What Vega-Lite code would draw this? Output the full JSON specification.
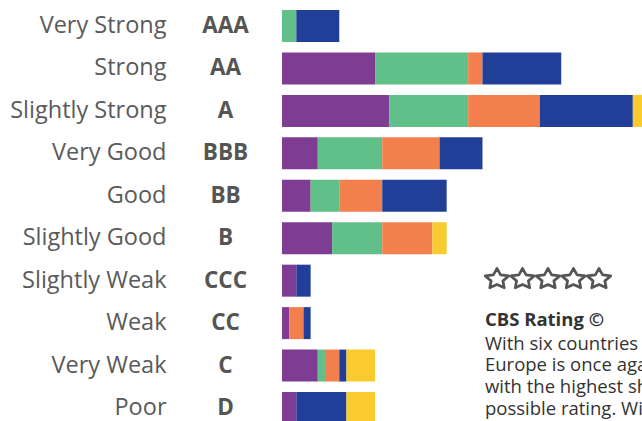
{
  "$schema": "https://vega.github.io/schema/vega-lite/v6.json",
  "autosize": "none",
  "padding": {"left": 282, "top": 0, "right": 0, "bottom": 0},
  "width": 360,
  "height": 434,
  "config": {"view": {"stroke": null}, "font": "Open Sans"},
  "data": {"values": [
    {"rating": "AAA", "region": "Asia-Pacific", "ord": 2, "n": 2},
    {"rating": "AAA", "region": "Europe", "ord": 4, "n": 6},
    {"rating": "AA", "region": "Americas", "ord": 1, "n": 13},
    {"rating": "AA", "region": "Asia-Pacific", "ord": 2, "n": 13},
    {"rating": "AA", "region": "Middle East & Central Asia", "ord": 3, "n": 2},
    {"rating": "AA", "region": "Europe", "ord": 4, "n": 11},
    {"rating": "A", "region": "Americas", "ord": 1, "n": 15},
    {"rating": "A", "region": "Asia-Pacific", "ord": 2, "n": 11},
    {"rating": "A", "region": "Middle East & Central Asia", "ord": 3, "n": 10},
    {"rating": "A", "region": "Europe", "ord": 4, "n": 13},
    {"rating": "A", "region": "Africa", "ord": 5, "n": 2},
    {"rating": "BBB", "region": "Americas", "ord": 1, "n": 5},
    {"rating": "BBB", "region": "Asia-Pacific", "ord": 2, "n": 9},
    {"rating": "BBB", "region": "Middle East & Central Asia", "ord": 3, "n": 8},
    {"rating": "BBB", "region": "Europe", "ord": 4, "n": 6},
    {"rating": "BB", "region": "Americas", "ord": 1, "n": 4},
    {"rating": "BB", "region": "Asia-Pacific", "ord": 2, "n": 4},
    {"rating": "BB", "region": "Middle East & Central Asia", "ord": 3, "n": 6},
    {"rating": "BB", "region": "Europe", "ord": 4, "n": 9},
    {"rating": "B", "region": "Americas", "ord": 1, "n": 7},
    {"rating": "B", "region": "Asia-Pacific", "ord": 2, "n": 7},
    {"rating": "B", "region": "Middle East & Central Asia", "ord": 3, "n": 7},
    {"rating": "B", "region": "Africa", "ord": 5, "n": 2},
    {"rating": "CCC", "region": "Americas", "ord": 1, "n": 2},
    {"rating": "CCC", "region": "Europe", "ord": 4, "n": 2},
    {"rating": "CC", "region": "Americas", "ord": 1, "n": 1},
    {"rating": "CC", "region": "Middle East & Central Asia", "ord": 3, "n": 2},
    {"rating": "CC", "region": "Europe", "ord": 4, "n": 1},
    {"rating": "C", "region": "Americas", "ord": 1, "n": 5},
    {"rating": "C", "region": "Asia-Pacific", "ord": 2, "n": 1},
    {"rating": "C", "region": "Middle East & Central Asia", "ord": 3, "n": 2},
    {"rating": "C", "region": "Europe", "ord": 4, "n": 1},
    {"rating": "C", "region": "Africa", "ord": 5, "n": 4},
    {"rating": "D", "region": "Americas", "ord": 1, "n": 2},
    {"rating": "D", "region": "Europe", "ord": 4, "n": 7},
    {"rating": "D", "region": "Africa", "ord": 5, "n": 4}
  ]},
  "layer": [
    {
      "mark": {"type": "bar", "clip": true},
      "encoding": {
        "y": {
          "field": "rating", "type": "nominal", "sort": null,
          "scale": {"paddingInner": 0.246, "paddingOuter": 0.2356},
          "axis": {"orient": "left", "title": null, "domain": false, "ticks": false, "tickSize": 0,
                   "labelAlign": "center", "labelPadding": 57, "labelFont": "Open Sans",
                   "labelFontSize": 22.5, "labelFontWeight": "bold", "labelColor": "#555555"}
        },
        "x": {"field": "n", "type": "quantitative", "stack": "zero",
              "scale": {"domain": [0, 50.28], "nice": false, "zero": true}, "axis": null},
        "color": {"field": "region", "type": "nominal",
                  "scale": {"domain": ["Americas", "Asia-Pacific", "Middle East & Central Asia", "Europe", "Africa"],
                            "range": ["#7e3d93", "#61bf8a", "#f3804c", "#213f99", "#f9cb2f"]},
                  "legend": null},
        "order": {"field": "ord", "type": "quantitative"}
      }
    },
    {
      "mark": {"type": "tick", "opacity": 0},
      "encoding": {
        "y": {
          "field": "rating", "type": "nominal", "sort": null,
          "axis": {"orient": "left", "title": null, "domain": false, "ticks": false, "tickSize": 0,
                   "labelAlign": "right", "labelPadding": 116, "labelFont": "Open Sans", "labelLimit": 300,
                   "labelFontSize": 23.5, "labelFontWeight": "normal", "labelColor": "#5a5a5a",
                   "labelExpr": "{'AAA':'Very Strong','AA':'Strong','A':'Slightly Strong','BBB':'Very Good','BB':'Good','B':'Slightly Good','CCC':'Slightly Weak','CC':'Weak','C':'Very Weak','D':'Poor'}[datum.value]"}
        }
      }
    },
    {
      "data": {"values": [{}]},
      "layer": [
        {"mark": {"type": "point", "shape": "M0,-0.82L0.309,-0.28L1,-0.19L0.5,0.23L0.618,0.82L0,0.54L-0.618,0.82L-0.5,0.23L-1,-0.19L-0.309,-0.28Z", "size": 552, "filled": false, "stroke": "#555555", "strokeWidth": 2.7, "strokeJoin": "round", "opacity": 1, "yOffset": -2.5},
         "encoding": {"x": {"datum": 30.03, "type": "quantitative"}, "y": {"datum": "CCC", "type": "nominal", "axis": null}}},
        {"mark": {"type": "point", "shape": "M0,-0.82L0.309,-0.28L1,-0.19L0.5,0.23L0.618,0.82L0,0.54L-0.618,0.82L-0.5,0.23L-1,-0.19L-0.309,-0.28Z", "size": 552, "filled": false, "stroke": "#555555", "strokeWidth": 2.7, "strokeJoin": "round", "opacity": 1, "yOffset": -2.5},
         "encoding": {"x": {"datum": 33.59, "type": "quantitative"}, "y": {"datum": "CCC", "type": "nominal", "axis": null}}},
        {"mark": {"type": "point", "shape": "M0,-0.82L0.309,-0.28L1,-0.19L0.5,0.23L0.618,0.82L0,0.54L-0.618,0.82L-0.5,0.23L-1,-0.19L-0.309,-0.28Z", "size": 552, "filled": false, "stroke": "#555555", "strokeWidth": 2.7, "strokeJoin": "round", "opacity": 1, "yOffset": -2.5},
         "encoding": {"x": {"datum": 37.15, "type": "quantitative"}, "y": {"datum": "CCC", "type": "nominal", "axis": null}}},
        {"mark": {"type": "point", "shape": "M0,-0.82L0.309,-0.28L1,-0.19L0.5,0.23L0.618,0.82L0,0.54L-0.618,0.82L-0.5,0.23L-1,-0.19L-0.309,-0.28Z", "size": 552, "filled": false, "stroke": "#555555", "strokeWidth": 2.7, "strokeJoin": "round", "opacity": 1, "yOffset": -2.5},
         "encoding": {"x": {"datum": 40.71, "type": "quantitative"}, "y": {"datum": "CCC", "type": "nominal", "axis": null}}},
        {"mark": {"type": "point", "shape": "M0,-0.82L0.309,-0.28L1,-0.19L0.5,0.23L0.618,0.82L0,0.54L-0.618,0.82L-0.5,0.23L-1,-0.19L-0.309,-0.28Z", "size": 552, "filled": false, "stroke": "#555555", "strokeWidth": 2.7, "strokeJoin": "round", "opacity": 1, "yOffset": -2.5},
         "encoding": {"x": {"datum": 44.27, "type": "quantitative"}, "y": {"datum": "CCC", "type": "nominal", "axis": null}}}
      ]
    },
    {
      "data": {"values": [{}]},
      "mark": {"type": "text", "text": "CBS Rating ©", "align": "left", "baseline": "alphabetic", "fontSize": 18.5, "fontWeight": "bold", "color": "#333333", "yOffset": 3},
      "encoding": {
        "x": {"datum": 28.35, "type": "quantitative"},
        "y": {"datum": "CC", "type": "nominal", "axis": null}
      }
    },
    {
      "data": {"values": [{}]},
      "mark": {"type": "text", "text": ["With six countries rated AAA,", "Europe is once again the region", "with the highest share of the best", "possible rating. With a total of"], "align": "left", "baseline": "alphabetic", "fontSize": 18.5, "fontWeight": "normal", "lineHeight": 21.67, "color": "#333333", "yOffset": 26.7},
      "encoding": {
        "x": {"datum": 28.35, "type": "quantitative"},
        "y": {"datum": "CC", "type": "nominal", "axis": null}
      }
    }
  ],
  "resolve": {"axis": {"y": "independent"}}
}
